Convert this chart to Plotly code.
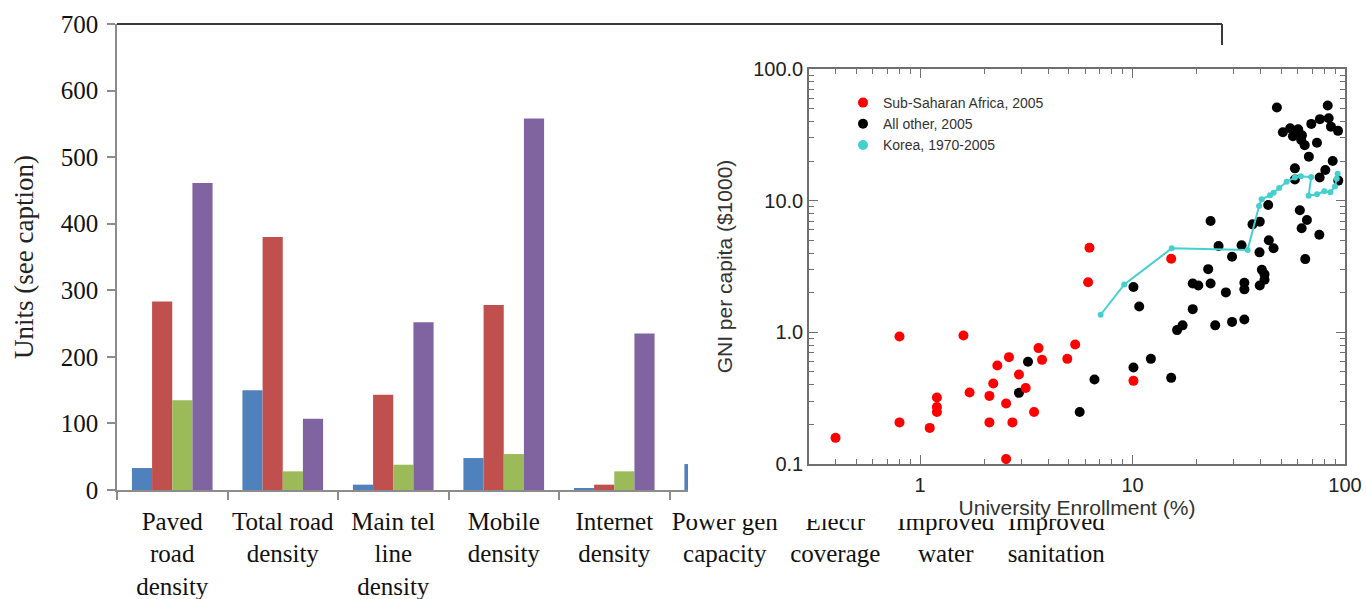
import math
import plotly.graph_objects as go

W, H = 1366, 599

# ---------------- bar chart data ----------------
categories = ["Paved<br>road<br>density", "Total road<br>density", "Main tel<br>line<br>density",
              "Mobile<br>density", "Internet<br>density", "Power gen<br>capacity",
              "Electr<br>coverage", "Improved<br>water", "Improved<br>sanitation"]
series_a = [33, 150, 8, 48, 3, 39, None, None, None]
series_b = [283, 380, 143, 278, 8, None, None, None, None]
series_c = [135, 28, 38, 54, 28, None, None, None, None]
series_d = [461, 107, 252, 558, 235, None, None, None, None]
bar_colors = ["#4F81BD", "#C0504D", "#9BBB59", "#8064A2"]
bar_names = ["Series 1", "Series 2", "Series 3", "Series 4"]

# ---------------- scatter data ----------------
ssa_x = [0.40, 0.80, 0.80, 1.11, 1.20, 1.20, 1.20, 1.60, 1.71, 2.12, 2.12, 2.21, 2.31, 2.54,
         2.54, 2.62, 2.72, 2.92, 3.14, 3.44, 3.61, 3.75, 4.93, 5.37, 6.27, 6.18, 10.1, 15.2]
ssa_y = [0.158, 0.93, 0.207, 0.188, 0.32, 0.271, 0.248, 0.947, 0.349, 0.329, 0.207, 0.409, 0.56, 0.288,
         0.109, 0.648, 0.207, 0.479, 0.378, 0.248, 0.759, 0.618, 0.629, 0.809, 4.39, 2.40, 0.428, 3.62]

oth_x = [3.22, 2.92, 5.64, 6.62, 10.1, 10.75, 10.1, 12.2, 15.2, 16.2, 17.2, 19.2, 19.2, 20.4,
         22.7, 23.3, 24.5, 25.4, 27.5, 29.4, 29.4, 32.6, 33.6, 33.6, 33.6, 39.6, 40.6, 41.8,
         41.8, 39.7, 43.8, 46.1, 65.0, 47.8, 82.9, 76.2, 69.4, 83.8, 85.9, 92.7, 51.0, 55.2,
         57.9, 60.2, 56.9, 59.4, 62.7, 62.2, 64.6, 73.8, 67.6, 87.5, 58.1, 80.8, 76.0, 58.1,
         93.0, 43.5, 61.3, 66.2, 62.5, 75.7, 23.3, 36.7, 39.7]
oth_y = [0.597, 0.347, 0.248, 0.438, 2.21, 1.57, 0.541, 0.629, 0.451, 1.04, 1.13, 1.50, 2.35, 2.27,
         3.02, 2.35, 1.13, 4.53, 2.01, 3.75, 1.20, 4.58, 2.38, 2.12, 1.25, 4.05, 2.99, 2.76,
         2.51, 2.27, 5.0, 4.35, 3.6, 51.0, 52.8, 41.6, 38.3, 42.3, 36.5, 33.9, 33.1, 35.5,
         33.9, 34.9, 30.9, 32.1, 31.4, 28.9, 26.4, 27.5, 21.6, 20.0, 17.6, 17.1, 15.0, 14.5,
         14.2, 9.27, 8.45, 7.13, 6.17, 5.51, 7.01, 6.61, 6.93]

korea_x = [7.08, 9.14, 15.3, 34.8, 39.4, 40.5, 44.4, 46.1, 49.0, 53.1, 58.1, 62.0, 69.3,
           67.4, 73.8, 79.9, 85.3, 89.7, 91.4, 92.3]
korea_y = [1.36, 2.31, 4.35, 4.22, 9.1, 10.25, 11.0, 11.5, 12.5, 13.9, 15.0, 15.3, 15.1,
           10.9, 11.2, 11.8, 11.6, 12.8, 14.7, 16.0]

x_ticks = [1, 10, 100]
x_ticktext = ["1", "10", "100"]
y_ticks = [0.1, 1, 10, 100]
y_ticktext = ["0.1", "1.0", "10.0", "100.0"]
x_minor = [0.4, 0.5, 0.6, 0.7, 0.8, 0.9, 2, 3, 4, 5, 6, 7, 8, 9, 20, 30, 40, 50, 60, 70, 80, 90]
y_minor = [0.2, 0.3, 0.4, 0.5, 0.6, 0.7, 0.8, 0.9, 2, 3, 4, 5, 6, 7, 8, 9, 20, 30, 40, 50, 60, 70, 80, 90]

KOREA = "#45CFCF"
SERIF = "Liberation Serif"
SANS = "Liberation Sans"


def fx(p):
    return p / W


def fy(p):
    return 1 - p / H


fig = go.Figure()

for vals, col, nm in zip([series_a, series_b, series_c, series_d], bar_colors, bar_names):
    fig.add_trace(go.Bar(x=categories, y=vals, name=nm, marker=dict(color=col, line=dict(width=0)),
                         xaxis="x", yaxis="y", showlegend=False))

# empty trace so the white inset panel subplot exists
fig.add_trace(go.Scatter(x=[], y=[], xaxis="x2", yaxis="y2", showlegend=False, hoverinfo="skip"))

fig.add_trace(go.Scatter(x=oth_x, y=oth_y, mode="markers", name="All other, 2005",
                         marker=dict(color="black", size=10, line=dict(width=0)),
                         xaxis="x3", yaxis="y3", legendrank=2))
fig.add_trace(go.Scatter(x=ssa_x, y=ssa_y, mode="markers", name="Sub-Saharan Africa, 2005",
                         marker=dict(color="#FF0000", size=10, line=dict(width=0)),
                         xaxis="x3", yaxis="y3", legendrank=1))
fig.add_trace(go.Scatter(x=korea_x, y=korea_y, mode="lines+markers", name="Korea, 1970-2005",
                         line=dict(color=KOREA, width=2),
                         marker=dict(color=KOREA, size=6, line=dict(width=0)),
                         xaxis="x3", yaxis="y3", showlegend=False))
# legend entry for Korea (dot only, as in the original legend)
fig.add_trace(go.Scatter(x=[None], y=[None], mode="markers", name="Korea, 1970-2005",
                         marker=dict(color=KOREA, size=10, line=dict(width=0)),
                         xaxis="x3", yaxis="y3", legendrank=3))

fig.update_layout(
    width=W, height=H,
    margin=dict(l=0, r=0, t=0, b=0, autoexpand=False),
    paper_bgcolor="white", plot_bgcolor="white",
    barmode="group", bargap=0.27, bargroupgap=0,
    xaxis=dict(domain=[fx(117), fx(1222)], anchor="y", type="category", range=[-0.5, 9.5],
               automargin=False, tickangle=0,
               showline=True, linecolor="#8c8c8c", linewidth=1.5,
               ticks="outside", tickson="boundaries", ticklen=8, tickcolor="#8c8c8c", tickwidth=1.5,
               tickfont=dict(family=SERIF, size=25, color="#111"), ticklabelstandoff=8,
               showgrid=False, zeroline=False),
    yaxis=dict(domain=[fy(490), fy(24)], anchor="x", range=[0, 700], dtick=100,
               automargin=False,
               showline=True, linecolor="#8c8c8c", linewidth=1.5,
               ticks="outside", ticklen=8, tickcolor="#8c8c8c", tickwidth=1.5,
               tickfont=dict(family=SERIF, size=25, color="#111"), ticklabelstandoff=4,
               title=dict(text="Units (see caption)", font=dict(family=SERIF, size=27, color="#222"),
                          standoff=19),
               showgrid=False, zeroline=False),
    xaxis2=dict(domain=[fx(688), 1.0], anchor="y2", range=[0, 1], showline=False, showgrid=False,
                automargin=False, zeroline=False, showticklabels=False, ticks=""),
    yaxis2=dict(domain=[fy(519), fy(45)], anchor="x2", range=[0, 1], showline=False, showgrid=False,
                automargin=False, zeroline=False, showticklabels=False, ticks=""),
    xaxis3=dict(domain=[fx(809), fx(1345)], anchor="y3", type="log", automargin=False,
                range=[math.log10(0.3), 2], tickvals=x_ticks, ticktext=x_ticktext, tickangle=0,
                showline=True, linecolor="#707070", linewidth=1.5, mirror="ticks",
                ticks="inside", ticklen=9, tickcolor="#707070", tickwidth=1.2,
                minor=dict(tickvals=x_minor, ticks="inside", ticklen=5, tickcolor="#707070", tickwidth=1.2),
                tickfont=dict(family=SANS, size=20, color="#222"), ticklabelstandoff=2,
                title=dict(text="University Enrollment (%)", font=dict(family=SANS, size=21, color="#333"),
                           standoff=4),
                showgrid=False, zeroline=False),
    yaxis3=dict(domain=[fy(464), fy(69)], anchor="x3", type="log", automargin=False,
                range=[-1, 2], tickvals=y_ticks, ticktext=y_ticktext,
                showline=True, linecolor="#707070", linewidth=1.5, mirror="ticks",
                ticks="inside", ticklen=9, tickcolor="#707070", tickwidth=1.2,
                minor=dict(tickvals=y_minor, ticks="inside", ticklen=5, tickcolor="#707070", tickwidth=1.2),
                tickfont=dict(family=SANS, size=20, color="#222"),
                title=dict(text="GNI per capita ($1000)", font=dict(family=SANS, size=21, color="#333"),
                           standoff=15),
                showgrid=False, zeroline=False),
    legend=dict(x=fx(843), y=fy(87), xanchor="left", yanchor="top", bgcolor="rgba(0,0,0,0)",
                font=dict(family=SANS, size=14, color="#333"), tracegroupgap=0, itemwidth=30),
    shapes=[
        dict(type="line", xref="x domain", yref="y domain", x0=0, x1=1, y0=1, y1=1,
             line=dict(color="#3a3a3a", width=2), layer="below"),
        dict(type="line", xref="x domain", yref="y domain", x0=1, x1=1, y0=0, y1=1,
             line=dict(color="#3a3a3a", width=2), layer="below"),
    ],
)

fig.write_html("out.html", config={"displayModeBar": False},
               post_script="document.body.style.margin='0px';")
